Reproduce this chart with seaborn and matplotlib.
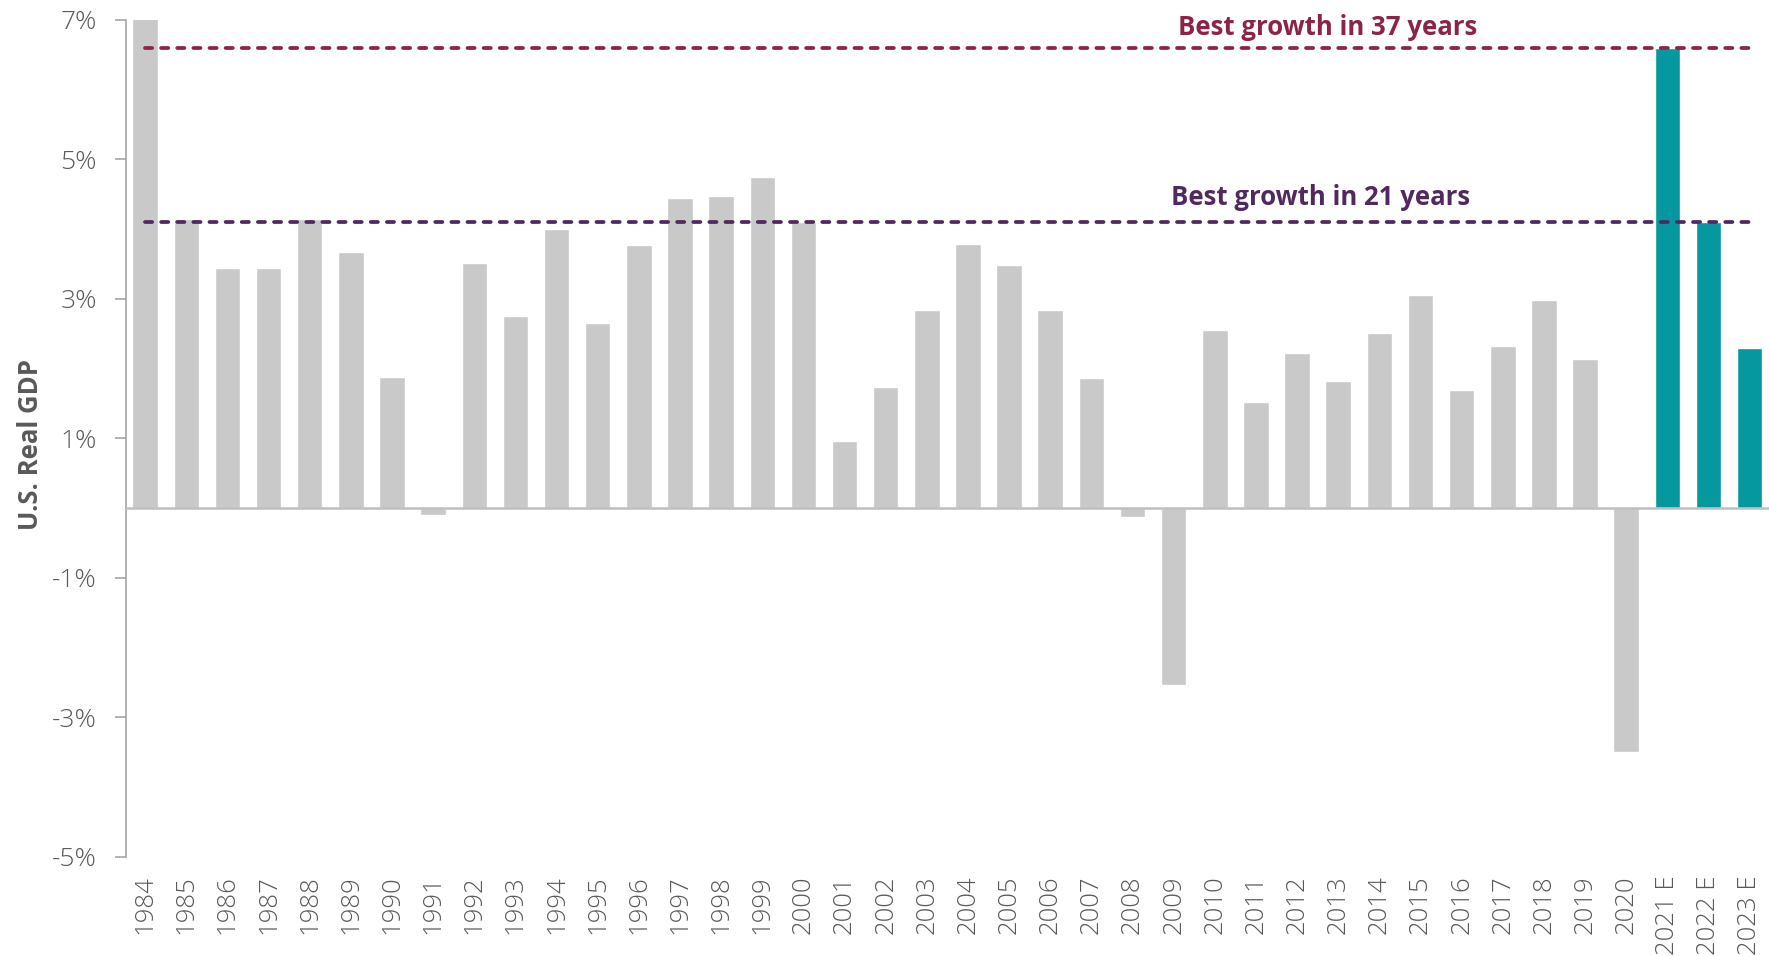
import matplotlib
matplotlib.use("Agg")
import matplotlib.pyplot as plt
import seaborn as sns
import pandas as pd

years = ["1984", "1985", "1986", "1987", "1988", "1989", "1990", "1991", "1992", "1993",
         "1994", "1995", "1996", "1997", "1998", "1999", "2000", "2001", "2002", "2003",
         "2004", "2005", "2006", "2007", "2008", "2009", "2010", "2011", "2012", "2013",
         "2014", "2015", "2016", "2017", "2018", "2019", "2020", "2021 E", "2022 E", "2023 E"]
gdp = [7.2, 4.15, 3.45, 3.45, 4.15, 3.67, 1.88, -0.1, 3.51, 2.75,
       4.0, 2.66, 3.77, 4.45, 4.48, 4.75, 4.1, 0.97, 1.74, 2.84,
       3.79, 3.48, 2.84, 1.86, -0.13, -2.53, 2.56, 1.52, 2.23, 1.83,
       2.51, 3.05, 1.7, 2.32, 2.99, 2.14, -3.49, 6.6, 4.1, 2.29]
is_estimate = [False] * 37 + [True] * 3
yticks = [-5, -3, -1, 1, 3, 5, 7]
ref_values = [6.6, 4.1]
ref_labels = ["Best growth in 37 years", "Best growth in 21 years"]

GRAY = "#C9C9C9"
TEAL = "#05989F"
REF_COLORS = ["#8C2348", "#52295F"]
TXT = "#595959"

sns.set_theme(style="white")
plt.rcParams["font.family"] = ["Open Sans", "DejaVu Sans"]

df = pd.DataFrame({"year": years, "gdp": gdp, "est": is_estimate})
palette = {y: (TEAL if e else GRAY) for y, e in zip(years, is_estimate)}

fig = plt.figure(figsize=(17.69, 9.56), dpi=100)
ax = fig.add_axes([0.0712, 0.1036, 0.9288, 0.8755])

sns.barplot(data=df, x="year", y="gdp", hue="year", palette=palette, legend=False,
            width=0.62, saturation=1, ax=ax, order=years)

n = len(years)
ax.set_xlim(-0.466, n - 1 + 0.47)
ax.set_ylim(-5, 7)
ax.axhline(0, color="#BFBFBF", lw=1.8, zorder=3)

for v, lab, c, xc, yt in zip(ref_values, ref_labels, REF_COLORS, [28.74, 28.58], [6.89, 4.46]):
    ax.plot([0, n - 1], [v, v], color=c, lw=2.7, ls=(0, (1.9, 2.4)),
            dash_capstyle="round", zorder=4)
    ax.text(xc, yt, lab, color=c, fontsize=18.5, fontweight="bold",
            ha="center", va="center", zorder=5)

ax.set_yticks(yticks)
ax.set_yticklabels([f"{t}%" for t in yticks])
ax.tick_params(axis="y", left=True, length=8, width=1.2, color="#A6A6A6", pad=13,
               labelsize=19, labelcolor=TXT)
ax.tick_params(axis="x", bottom=False, length=0, pad=13, labelsize=18.5,
               labelcolor=TXT, rotation=90)
for lbl in ax.get_yticklabels() + ax.get_xticklabels():
    lbl.set_fontweight("light")

for s in ["top", "right", "bottom"]:
    ax.spines[s].set_visible(False)
ax.spines["left"].set_color("#A6A6A6")
ax.spines["left"].set_linewidth(1.2)

ax.set_xlabel("")
ax.set_ylabel("U.S. Real GDP", fontsize=18.5, fontweight="bold", color=TXT)
ax.yaxis.set_label_coords(-0.05, 0.493)

fig.savefig("out.png", dpi=100)
